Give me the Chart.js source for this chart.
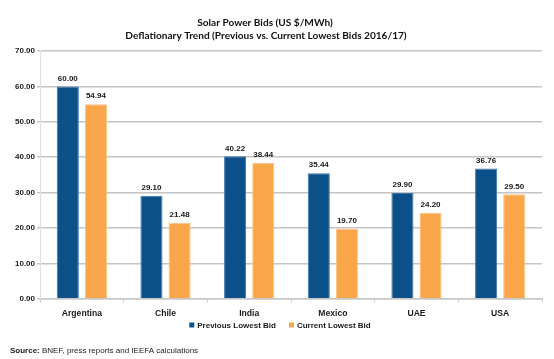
<!DOCTYPE html>
<html>
<head>
<meta charset="utf-8">
<script src="https://cdn.jsdelivr.net/npm/chart.js@4"></script>
<style>
html,body{margin:0;padding:0;background:#fff;}
#wrap{position:relative;width:554px;height:359px;}
</style>
</head>
<body>
<div id="wrap"><canvas id="c"></canvas></div>
<script>
const categories = ["Argentina", "Chile", "India", "Mexico", "UAE", "USA"];
const previousLowestBid = [60.00, 29.10, 40.22, 35.44, 29.90, 36.76];
const currentLowestBid = [54.94, 21.48, 38.44, 19.70, 24.20, 29.50];
const seriesNames = ["Previous Lowest Bid", "Current Lowest Bid"];
const seriesColors = ["#0B5088", "#F9A54A"];
const titleLines = ["Solar Power Bids (US $/MWh)", "Deflationary Trend (Previous vs. Current Lowest Bids 2016/17)"];
const sourceLabel = "Source:";
const sourceText = " BNEF, press reports and IEEFA calculations";

const sansFamily = "'Liberation Sans', Arial, sans-serif";

const titlePlugin = {
  id: 'titleText',
  afterDraw(chart) {
    const ctx = chart.ctx;
    ctx.save();
    ctx.font = "bold 10.1px Lato, 'Liberation Sans', sans-serif";
    ctx.fillStyle = '#111';
    ctx.textAlign = 'center';
    ctx.textBaseline = 'middle';
    ctx.fillText(titleLines[0], 265, 22.5);
    ctx.fillText(titleLines[1], 266, 35.5);
    ctx.restore();
  }
};

const valueLabels = {
  id: 'valueLabels',
  afterDatasetsDraw(chart) {
    const ctx = chart.ctx;
    ctx.save();
    ctx.font = "bold 8px " + sansFamily;
    ctx.fillStyle = '#1a1a1a';
    ctx.textAlign = 'center';
    ctx.textBaseline = 'bottom';
    chart.data.datasets.forEach((ds, i) => {
      const meta = chart.getDatasetMeta(i);
      meta.data.forEach((bar, j) => {
        ctx.fillText(ds.data[j].toFixed(2), bar.x, bar.y - 4);
      });
    });
    ctx.restore();
  }
};

const customLegend = {
  id: 'customLegend',
  afterDraw(chart) {
    const ctx = chart.ctx;
    ctx.save();
    ctx.font = "bold 8px " + sansFamily;
    ctx.textBaseline = 'middle';
    ctx.textAlign = 'left';
    const box = 5, gapText = 3, gapItem = 13, y = 325;
    const items = chart.data.datasets.map(ds => ({ label: ds.label, color: ds.backgroundColor, w: ctx.measureText(ds.label).width }));
    let total = 0;
    items.forEach((it, i) => { total += box + gapText + it.w + (i < items.length - 1 ? gapItem : 0); });
    let x = 280 - total / 2;
    items.forEach(it => {
      ctx.fillStyle = it.color;
      ctx.fillRect(x, y - box / 2, box, box);
      x += box + gapText;
      ctx.fillStyle = '#1a1a1a';
      ctx.fillText(it.label, x, y + 0.5);
      x += it.w + gapItem;
    });
    ctx.restore();
  }
};

const sourcePlugin = {
  id: 'sourceNote',
  afterDraw(chart) {
    const ctx = chart.ctx;
    ctx.save();
    ctx.textBaseline = 'middle';
    ctx.textAlign = 'left';
    ctx.fillStyle = '#1a1a1a';
    ctx.font = "bold 8px " + sansFamily;
    ctx.fillText(sourceLabel, 10, 351);
    const w = ctx.measureText(sourceLabel).width;
    ctx.font = "8px " + sansFamily;
    ctx.fillText(sourceText, 10 + w, 351);
    ctx.restore();
  }
};

new Chart(document.getElementById('c'), {
  type: 'bar',
  data: {
    labels: categories,
    datasets: [
      { label: seriesNames[0], data: previousLowestBid, backgroundColor: seriesColors[0], borderColor: '#3a76aa', borderWidth: 1,
        categoryPercentage: 0.672, barPercentage: 0.786 },
      { label: seriesNames[1], data: currentLowestBid, backgroundColor: seriesColors[1], borderColor: '#fcc385', borderWidth: 1,
        categoryPercentage: 0.672, barPercentage: 0.786 }
    ]
  },
  options: {
    responsive: true,
    maintainAspectRatio: false,
    animation: false,
    devicePixelRatio: 1,
    layout: { padding: { top: 51, left: 13, right: 12, bottom: 34 } },
    plugins: {
      title: { display: false },
      legend: { display: false },
      tooltip: { enabled: false }
    },
    scales: {
      x: {
        grid: { display: true, drawOnChartArea: false, drawTicks: true, tickLength: 4, color: '#d0d0d0', offset: true },
        border: { display: true, color: '#c8c8c8', width: 1.5 },
        ticks: { color: '#1a1a1a', padding: 6, font: { family: sansFamily, size: 8.6, weight: 'bold' } }
      },
      y: {
        min: 0, max: 70,
        grid: { color: '#c4c4c4', lineWidth: 1.5, drawTicks: true, tickLength: 3 },
        border: { display: true, color: '#e0e0e0', width: 1 },
        ticks: { stepSize: 10, padding: 2, color: '#1a1a1a',
          font: { family: sansFamily, size: 8, weight: 'bold' },
          callback: v => Number(v).toFixed(2) }
      }
    }
  },
  plugins: [titlePlugin, valueLabels, customLegend, sourcePlugin]
});
</script>
</body>
</html>
